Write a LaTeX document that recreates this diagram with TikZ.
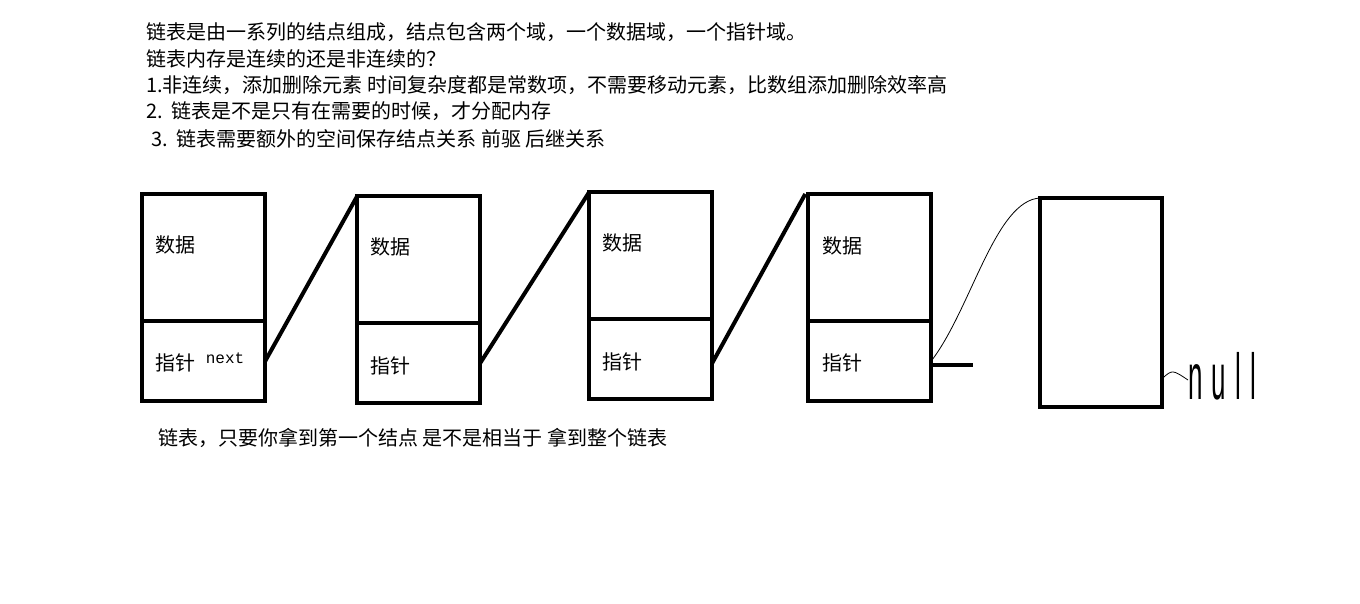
\documentclass[tikz,border=0pt]{standalone}
\usepackage{fontspec}
\newfontfamily\cjk{Noto Sans CJK SC}
\newfontfamily\handfont[LetterSpace=35]{Liberation Sans}
\setmonofont{Liberation Mono}
\usepackage{tikz}
\usetikzlibrary{positioning}

\begin{document}
\begin{tikzpicture}[x=1pt,y=-1pt]
\tikzstyle{datacell}=[rectangle,draw,line width=4pt,minimum width=123pt,minimum height=127pt,inner sep=0pt,outer sep=0pt]
\tikzstyle{ptrcell}=[rectangle,draw,line width=4pt,minimum width=123pt,minimum height=80pt,inner sep=0pt,outer sep=0pt]
\tikzstyle{lastcell}=[rectangle,draw,line width=4pt,minimum width=122pt,minimum height=209pt,inner sep=0pt,outer sep=0pt]
\tikzstyle{txt}=[font=\cjk\fontsize{20}{24}\selectfont,inner sep=0pt,anchor=west]
\tikzstyle{link}=[line width=4pt]
\useasboundingbox (0,0) rectangle (1360,604);
% notes on top
\node[txt] (n1) at (146,32.5) {链表是由一系列的结点组成，结点包含两个域，一个数据域，一个指针域。};
\node[txt] (n2) at (146,58.5) {链表内存是连续的还是非连续的？};
\node[txt] (n3) at (146,85.5) {1.非连续，添加删除元素 时间复杂度都是常数项，不需要移动元素，比数组添加删除效率高};
\node[txt] (n4) at (146,111) {2.\ \ 链表是不是只有在需要的时候，才分配内存};
\node[txt] (n5) at (151,138.5) {3.\ \ 链表需要额外的空间保存结点关系 前驱 后继关系};
% list nodes (data cell + pointer cell)
\node[datacell] (d1) at (203.75,257.5) {};
\node[ptrcell,below=0pt of d1] (p1) {};
\node[datacell,right=92pt of d1,yshift=-2pt] (d2) {};
\node[ptrcell,below=0pt of d2] (p2) {};
\node[datacell,right=109pt of d2,yshift=4pt] (d3) {};
\node[ptrcell,below=0pt of d3] (p3) {};
\node[datacell,right=96pt of d3,yshift=-2pt] (d4) {};
\node[ptrcell,below=0pt of d4] (p4) {};
\node[lastcell,right=109pt of d4.north east,anchor=north west,yshift=-4pt] (last) {};
% cell labels
\node[txt] (t1) at ([xshift=13pt,yshift=-51pt]d1.north west) {数据};
\node[txt] (t2) at ([xshift=13pt,yshift=-51pt]d2.north west) {数据};
\node[txt] (t3) at ([xshift=13pt,yshift=-51pt]d3.north west) {数据};
\node[txt] (t4) at ([xshift=14pt,yshift=-52pt]d4.north west) {数据};
\node[txt] (f1) at ([xshift=13pt,yshift=-42pt]p1.north west) {指针};
\node[txt] (f2) at ([xshift=13pt,yshift=-43pt]p2.north west) {指针};
\node[txt] (f3) at ([xshift=13pt,yshift=-43pt]p3.north west) {指针};
\node[txt] (f4) at ([xshift=14pt,yshift=-42pt]p4.north west) {指针};
\node[font=\ttfamily\fontsize{16}{18}\selectfont,inner sep=0pt,right=10pt of f1,yshift=5pt] (nx) {next};
% next pointers
\draw[link] (p1.east) -- (d2.north west);
\draw[link] (p2.east) -- (d3.north west);
\draw[link] ([yshift=-4pt]p3.east) -- ([xshift=-3pt]d4.north west);
\coordinate (stub) at ([xshift=42pt,yshift=-4pt]p4.east);
\draw[link] ([yshift=-4pt]p4.east) -- (stub);
\draw[line width=0.8pt] (p4.east) .. controls +(40,-52) and +(-45,2) .. (last.north west);
% null end
\node[font=\handfont\fontsize{26}{26}\selectfont,inner sep=0pt,anchor=west] (nul) at (1188,376) {\scalebox{1}[2.5]{null}};
\draw[line width=0.8pt] ([yshift=-76pt]last.east) .. controls +(10,-9) .. ([yshift=-4pt]nul.west);
% remark below
\node[txt] (rem) at (158,438) {链表，只要你拿到第一个结点 是不是相当于 拿到整个链表};
\end{tikzpicture}
\end{document}
